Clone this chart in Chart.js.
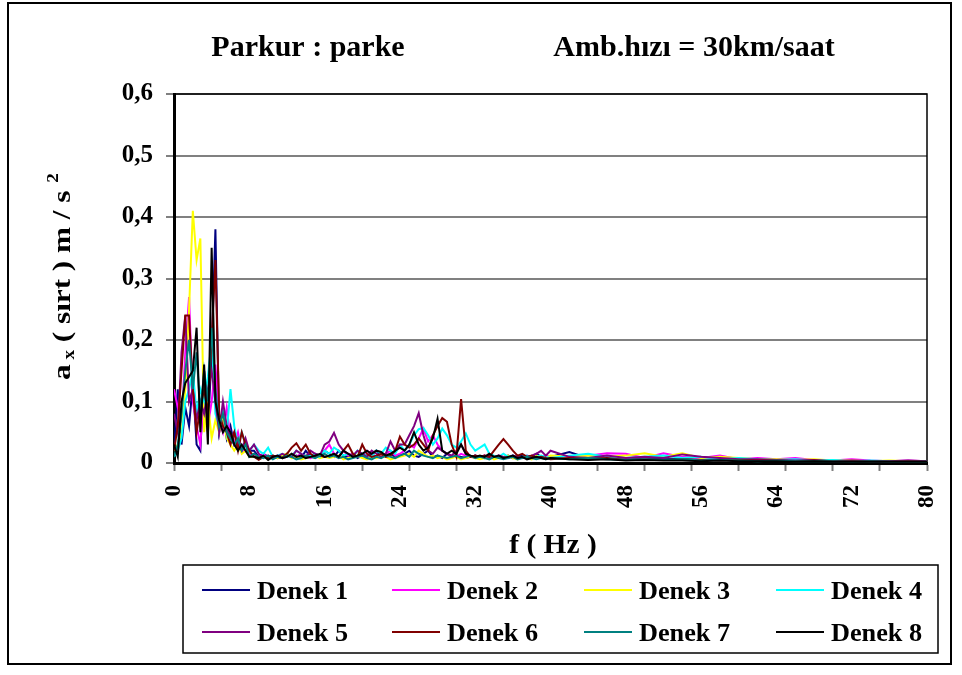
<!DOCTYPE html>
<html>
<head>
<meta charset="utf-8">
<script src="https://cdn.jsdelivr.net/npm/chart.js@4/dist/chart.umd.min.js"></script>
<style>
  html, body { margin: 0; padding: 0; background: #fff; }
</style>
</head>
<body>
<canvas id="chart" width="962" height="675"></canvas>
<script>
// frequency axis (Hz)
const freqs = [
  0, 0.4, 0.8, 1.2, 1.6, 2, 2.4, 2.8, 3.2, 3.6, 4, 4.4, 4.8, 5.2, 5.6, 6, 6.4, 6.8, 7.2, 7.6, 8,
  8.5, 9, 9.5, 10, 10.5, 11, 11.5, 12, 12.5, 13, 13.5, 14, 14.5, 15, 15.5, 16,
  16.5, 17, 17.5, 18, 18.5, 19, 19.5, 20, 20.5, 21, 21.5, 22, 22.5, 23, 23.5, 24,
  24.5, 25, 25.5, 26, 26.5, 27, 27.5, 28, 28.5, 29, 29.5, 30, 30.5, 31, 31.5, 32,
  32.5, 33, 33.5, 34, 34.5, 35, 35.5, 36, 36.5, 37, 37.5, 38, 38.5, 39, 39.5, 40,
  42, 44, 46, 48, 50, 52, 54, 56, 58, 60, 62, 64, 66, 68, 70, 72, 74, 76, 78, 80
];

const denek1 = [
  0.02, 0.12, 0.03, 0.09, 0.06, 0.13, 0.03, 0.02, 0.15, 0.05, 0.18, 0.38, 0.05, 0.08, 0.04, 0.06, 0.03, 0.04, 0.02, 0.03, 0.02,
  0.02, 0.01, 0.015, 0.01, 0.012, 0.008, 0.01, 0.015, 0.01, 0.012, 0.008, 0.02, 0.01, 0.015, 0.012, 0.02,
  0.015, 0.01, 0.02, 0.012, 0.01, 0.015, 0.008, 0.012, 0.01, 0.015, 0.02, 0.01, 0.012, 0.015, 0.01, 0.012,
  0.015, 0.02, 0.012, 0.01, 0.015, 0.02, 0.01, 0.012, 0.008, 0.015, 0.01, 0.012, 0.01, 0.008, 0.01, 0.012,
  0.01, 0.008, 0.012, 0.01, 0.008, 0.01, 0.012, 0.008, 0.01, 0.012, 0.008, 0.01, 0.015, 0.01, 0.008, 0.01,
  0.018, 0.008, 0.01, 0.006, 0.008, 0.006, 0.007, 0.005, 0.006, 0.005, 0.004, 0.005, 0.004, 0.004, 0.003, 0.004, 0.003, 0.003, 0.003, 0.002
];
const denek2 = [
  0.12, 0.09, 0.06, 0.18, 0.27, 0.1, 0.06, 0.03, 0.12, 0.06, 0.1, 0.16, 0.07, 0.05, 0.09, 0.04, 0.03, 0.05, 0.02, 0.02, 0.015,
  0.012, 0.01, 0.015, 0.008, 0.01, 0.012, 0.008, 0.01, 0.012, 0.01, 0.015, 0.01, 0.008, 0.012, 0.01, 0.02,
  0.03, 0.015, 0.01, 0.02, 0.012, 0.015, 0.01, 0.012, 0.02, 0.015, 0.01, 0.012, 0.015, 0.02, 0.012, 0.015,
  0.02, 0.03, 0.025, 0.04, 0.056, 0.035, 0.045, 0.03, 0.02, 0.015, 0.012, 0.01, 0.015, 0.012, 0.01, 0.008,
  0.01, 0.012, 0.008, 0.01, 0.012, 0.008, 0.01, 0.012, 0.01, 0.008, 0.012, 0.01, 0.008, 0.01, 0.012, 0.01,
  0.01, 0.012, 0.016, 0.015, 0.008, 0.016, 0.01, 0.008, 0.012, 0.006, 0.008, 0.006, 0.008, 0.005, 0.004, 0.006, 0.004, 0.003, 0.004, 0.003
];
const denek3 = [
  0.02, 0.03, 0.05, 0.12, 0.25, 0.41, 0.33, 0.365, 0.05, 0.1, 0.04, 0.07, 0.05, 0.08, 0.04, 0.03, 0.02, 0.03, 0.015, 0.02, 0.01,
  0.01, 0.008, 0.012, 0.006, 0.01, 0.008, 0.012, 0.015, 0.008, 0.01, 0.006, 0.008, 0.01, 0.012, 0.008, 0.01,
  0.008, 0.01, 0.012, 0.006, 0.008, 0.01, 0.012, 0.008, 0.006, 0.01, 0.008, 0.012, 0.01, 0.006, 0.008, 0.01,
  0.012, 0.015, 0.01, 0.02, 0.015, 0.01, 0.012, 0.008, 0.01, 0.006, 0.008, 0.01, 0.006, 0.008, 0.01, 0.008,
  0.006, 0.008, 0.01, 0.006, 0.008, 0.01, 0.012, 0.008, 0.006, 0.01, 0.008, 0.006, 0.012, 0.01, 0.008, 0.012,
  0.01, 0.012, 0.01, 0.012, 0.016, 0.01, 0.016, 0.008, 0.01, 0.008, 0.006, 0.006, 0.005, 0.006, 0.004, 0.004, 0.003, 0.004, 0.003, 0.003
];
const denek4 = [
  0.01, 0.02, 0.04, 0.1, 0.12, 0.15, 0.08, 0.12, 0.1, 0.14, 0.2, 0.08, 0.06, 0.09, 0.05, 0.12, 0.06, 0.03, 0.05, 0.03, 0.02,
  0.03, 0.02, 0.015, 0.025, 0.01, 0.012, 0.015, 0.01, 0.012, 0.02, 0.015, 0.01, 0.012, 0.015, 0.01, 0.02,
  0.015, 0.025, 0.02, 0.012, 0.015, 0.01, 0.02, 0.015, 0.012, 0.01, 0.02, 0.015, 0.025, 0.02, 0.015, 0.03,
  0.02, 0.03, 0.045, 0.055, 0.057, 0.045, 0.03, 0.04, 0.056, 0.045, 0.03, 0.025, 0.035, 0.048, 0.03, 0.02,
  0.025, 0.03, 0.015, 0.012, 0.01, 0.015, 0.01, 0.012, 0.008, 0.01, 0.012, 0.008, 0.01, 0.012, 0.01, 0.008,
  0.012, 0.015, 0.01, 0.008, 0.01, 0.012, 0.008, 0.01, 0.006, 0.008, 0.006, 0.005, 0.006, 0.004, 0.005, 0.003, 0.004, 0.003, 0.003, 0.003
];
const denek5 = [
  0.08, 0.05, 0.18, 0.24, 0.1, 0.12, 0.07, 0.1, 0.08, 0.12, 0.15, 0.1, 0.05, 0.1, 0.06, 0.04, 0.05, 0.03, 0.02, 0.04, 0.02,
  0.03, 0.015, 0.01, 0.012, 0.008, 0.01, 0.015, 0.012, 0.01, 0.02, 0.015, 0.01, 0.02, 0.015, 0.012, 0.03,
  0.035, 0.049, 0.03, 0.02, 0.015, 0.012, 0.02, 0.015, 0.01, 0.02, 0.015, 0.01, 0.015, 0.035, 0.02, 0.03,
  0.03, 0.045, 0.06, 0.081, 0.045, 0.02, 0.015, 0.025, 0.02, 0.015, 0.012, 0.02, 0.03, 0.015, 0.01, 0.012,
  0.01, 0.012, 0.008, 0.01, 0.012, 0.01, 0.008, 0.012, 0.01, 0.008, 0.01, 0.012, 0.015, 0.02, 0.012, 0.02,
  0.01, 0.008, 0.012, 0.008, 0.01, 0.008, 0.014, 0.01, 0.008, 0.006, 0.006, 0.005, 0.004, 0.005, 0.003, 0.004, 0.003, 0.003, 0.004, 0.003
];
const denek6 = [
  0.02, 0.06, 0.15, 0.24, 0.24, 0.12, 0.05, 0.09, 0.12, 0.08, 0.2, 0.33, 0.08, 0.06, 0.05, 0.03, 0.05, 0.02, 0.05, 0.03, 0.02,
  0.01, 0.005, 0.01, 0.008, 0.012, 0.01, 0.008, 0.015, 0.025, 0.032, 0.02, 0.03, 0.015, 0.01, 0.012, 0.01,
  0.012, 0.015, 0.01, 0.02, 0.03, 0.015, 0.01, 0.03, 0.015, 0.01, 0.012, 0.015, 0.01, 0.012, 0.02, 0.043,
  0.03, 0.025, 0.03, 0.04, 0.03, 0.02, 0.045, 0.06, 0.073, 0.067, 0.03, 0.01, 0.104, 0.02, 0.01, 0.012,
  0.01, 0.012, 0.01, 0.02, 0.03, 0.039, 0.03, 0.02, 0.012, 0.015, 0.01, 0.012, 0.008, 0.01, 0.008, 0.006,
  0.008, 0.006, 0.008, 0.005, 0.006, 0.005, 0.006, 0.005, 0.004, 0.005, 0.004, 0.004, 0.003, 0.004, 0.003, 0.003, 0.003, 0.002, 0.003, 0.002
];
const denek7 = [
  0.01, 0.03, 0.08, 0.15, 0.2, 0.12, 0.18, 0.08, 0.15, 0.1, 0.22, 0.12, 0.06, 0.08, 0.05, 0.04, 0.03, 0.04, 0.02, 0.03, 0.01,
  0.015, 0.01, 0.008, 0.012, 0.006, 0.01, 0.008, 0.012, 0.01, 0.006, 0.008, 0.012, 0.01, 0.008, 0.012, 0.015,
  0.01, 0.012, 0.008, 0.01, 0.006, 0.008, 0.01, 0.012, 0.008, 0.006, 0.01, 0.008, 0.012, 0.01, 0.008, 0.012,
  0.015, 0.01, 0.02, 0.015, 0.012, 0.01, 0.008, 0.012, 0.01, 0.008, 0.01, 0.012, 0.008, 0.01, 0.012, 0.008,
  0.01, 0.008, 0.006, 0.01, 0.008, 0.006, 0.008, 0.01, 0.006, 0.008, 0.01, 0.008, 0.006, 0.008, 0.006, 0.008,
  0.006, 0.008, 0.006, 0.005, 0.006, 0.005, 0.006, 0.004, 0.005, 0.004, 0.003, 0.004, 0.003, 0.003, 0.003, 0.002, 0.003, 0.002, 0.002, 0.002
];
const denek8 = [
  0.03, 0.01, 0.1, 0.13, 0.14, 0.15, 0.22, 0.05, 0.16, 0.03, 0.35, 0.1, 0.07, 0.05, 0.06, 0.05, 0.03, 0.02, 0.03, 0.02, 0.01,
  0.01, 0.008, 0.012, 0.005, 0.01, 0.012, 0.008, 0.01, 0.015, 0.01, 0.012, 0.008, 0.01, 0.012, 0.015, 0.01,
  0.012, 0.015, 0.01, 0.02, 0.015, 0.01, 0.012, 0.015, 0.02, 0.015, 0.02, 0.018, 0.012, 0.015, 0.02, 0.025,
  0.02, 0.03, 0.05, 0.03, 0.02, 0.025, 0.04, 0.072, 0.02, 0.015, 0.02, 0.015, 0.03, 0.015, 0.012, 0.01,
  0.012, 0.01, 0.015, 0.01, 0.012, 0.008, 0.01, 0.012, 0.008, 0.01, 0.006, 0.008, 0.01, 0.008, 0.006, 0.008,
  0.006, 0.005, 0.006, 0.004, 0.005, 0.004, 0.004, 0.003, 0.004, 0.003, 0.003, 0.003, 0.002, 0.003, 0.002, 0.002, 0.002, 0.002, 0.002, 0.002
];

const seriesNames = ['Denek 1', 'Denek 2', 'Denek 3', 'Denek 4', 'Denek 5', 'Denek 6', 'Denek 7', 'Denek 8'];
const seriesValues = [denek1, denek2, denek3, denek4, denek5, denek6, denek7, denek8];
const seriesColors = ['#000080', '#ff00ff', '#ffff00', '#00ffff', '#800080', '#800000', '#008080', '#000000'];

const yTicks = [0, 0.1, 0.2, 0.3, 0.4, 0.5, 0.6];
const yTickLabels = ['0', '0,1', '0,2', '0,3', '0,4', '0,5', '0,6'];
const xLabelTicks = [0, 8, 16, 24, 32, 40, 48, 56, 64, 72, 80];
const xMarkTicks = [0, 5, 10, 15, 20, 25, 30, 35, 40, 45, 50, 55, 60, 65, 70, 75, 80];

const FONT = "'Liberation Serif', 'Times New Roman', serif";

const datasets = seriesValues.map((vals, idx) => ({
  label: seriesNames[idx],
  data: freqs.map((f, i) => ({ x: f, y: vals[i] })),
  borderColor: seriesColors[idx],
  backgroundColor: seriesColors[idx],
  borderWidth: 2,
  pointRadius: 0,
  tension: 0,
  order: seriesValues.length - idx, // later series on top, like Excel
}));

// draw bold text squeezed/stretched horizontally
function drawText(ctx, text, x, y, size, sx, align) {
  ctx.save();
  ctx.font = `bold ${size}px ${FONT}`;
  ctx.fillStyle = '#000';
  ctx.textBaseline = 'alphabetic';
  const w = ctx.measureText(text).width * sx;
  let left = x;
  if (align === 'center') left = x - w / 2;
  else if (align === 'right') left = x - w;
  ctx.translate(left, y);
  ctx.scale(sx, 1);
  ctx.textAlign = 'left';
  ctx.fillText(text, 0, 0);
  ctx.restore();
  return w;
}

const decorations = {
  id: 'decorations',
  beforeDraw(chart) {
    const ctx = chart.ctx;
    ctx.save();
    ctx.fillStyle = '#fff';
    ctx.fillRect(0, 0, chart.width, chart.height);
    ctx.restore();
  },
  beforeDatasetsDraw(chart) {
    const { ctx, chartArea: a } = chart;
    ctx.save();
    ctx.strokeStyle = '#000';
    ctx.lineWidth = 1.5;
    ctx.strokeRect(a.left, a.top, a.right - a.left, a.bottom - a.top);
    ctx.restore();
  },
  afterDraw(chart) {
    const ctx = chart.ctx;

    // outer frame
    ctx.save();
    ctx.strokeStyle = '#000';
    ctx.lineWidth = 2;
    ctx.strokeRect(8, 3, 943, 661);
    ctx.restore();

    // titles
    drawText(ctx, 'Parkur : parke', 308, 56, 30, 1.0, 'center');
    drawText(ctx, 'Amb.hızı = 30km/saat', 694, 56, 30, 1.0, 'center');

    // x axis title
    drawText(ctx, 'f ( Hz )', 553, 553, 28, 1.05, 'center');

    // y axis title, rotated, with subscript and superscript
    ctx.save();
    ctx.translate(70, 380);
    ctx.rotate(-Math.PI / 2);
    let cx = 0;
    cx += drawText(ctx, 'a', cx, 0, 26, 1.2, 'left');
    cx += drawText(ctx, ' x', cx, 4, 16, 1.2, 'left');
    cx += drawText(ctx, ' ( sırt ) m / s ', cx, 0, 26, 1.2, 'left');
    drawText(ctx, '2', cx, -12, 16, 1.2, 'left');
    ctx.restore();

    // legend box
    ctx.save();
    ctx.strokeStyle = '#000';
    ctx.lineWidth = 1.5;
    ctx.strokeRect(183, 565, 755, 88);
    const colX = [202, 392, 584, 776];
    const rowY = [590, 632];
    chart.data.datasets.forEach((ds, i) => {
      const x = colX[i % 4];
      const y = rowY[Math.floor(i / 4)];
      ctx.strokeStyle = ds.borderColor;
      ctx.lineWidth = 2;
      ctx.beginPath();
      ctx.moveTo(x, y);
      ctx.lineTo(x + 48, y);
      ctx.stroke();
      drawText(ctx, ds.label, x + 55, y + 9, 25, 1.05, 'left');
    });
    ctx.restore();
  }
};

const xTickValues = Array.from(new Set([...xLabelTicks, ...xMarkTicks])).sort((a, b) => a - b);

new Chart(document.getElementById('chart').getContext('2d'), {
  type: 'line',
  data: { datasets },
  options: {
    responsive: false,
    animation: false,
    layout: { padding: { left: 0, top: 94, right: 35, bottom: 0 } },
    plugins: {
      legend: { display: false },
      title: { display: false },
      tooltip: { enabled: false },
    },
    scales: {
      x: {
        type: 'linear',
        min: 0,
        max: 80,
        afterBuildTicks: s => { s.ticks = xTickValues.map(v => ({ value: v })); },
        afterFit: s => { s.height = 212; s.paddingLeft = 0; s.paddingRight = 0; },
        ticks: {
          autoSkip: false,
          minRotation: 90,
          maxRotation: 90,
          padding: 14,
          color: '#000',
          font: { family: FONT, size: 23, weight: 'bold' },
          callback: v => (xLabelTicks.includes(v) ? String(v) : ''),
        },
        grid: {
          drawOnChartArea: false,
          drawTicks: true,
          tickLength: 8,
          tickWidth: 2,
          tickColor: c => (c.tick && xMarkTicks.includes(c.tick.value) ? '#808080' : 'rgba(0,0,0,0)'),
        },
        border: { color: '#000', width: 3 },
      },
      y: {
        min: 0,
        max: 0.6,
        afterBuildTicks: s => { s.ticks = yTicks.map(v => ({ value: v })); },
        afterFit: s => { s.width = 174; s.paddingTop = 0; s.paddingBottom = 0; },
        ticks: {
          padding: 13,
          color: '#000',
          font: { family: FONT, size: 25, weight: 'bold' },
          callback: (v, i) => yTickLabels[i],
        },
        grid: { color: '#808080', lineWidth: 2, tickLength: 8 },
        border: { color: '#000', width: 3 },
      },
    },
  },
  plugins: [decorations],
});
</script>
</body>
</html>
